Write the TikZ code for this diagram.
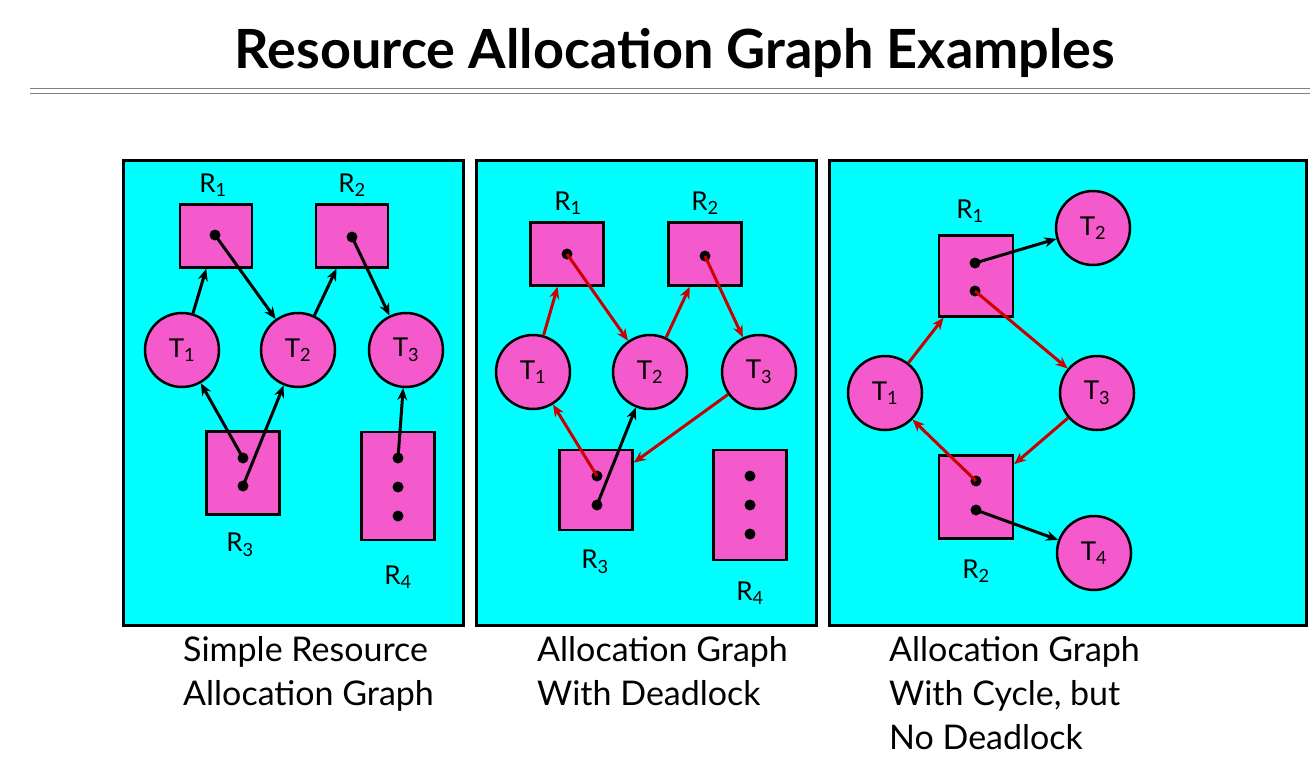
\documentclass[tikz,border=0pt]{standalone}
\usepackage{fontspec}
\setmainfont{Lato}
\usetikzlibrary{arrows.meta}
\definecolor{cy}{RGB}{0,255,255}
\definecolor{pk}{RGB}{245,90,205}
\definecolor{dr}{RGB}{200,0,0}
\begin{document}
\begin{tikzpicture}[x=1pt,y=-1pt,
 panel/.style={draw=black,line width=3,fill=cy,inner sep=0},
 res/.style={draw=black,line width=2.5,fill=pk,rectangle,inner sep=0},
 thr/.style={draw=black,line width=2.5,fill=pk,circle,minimum size=74,inner sep=0,font=\fontsize{26}{28}\selectfont},
 dot/.style={circle,fill=black,minimum size=11,inner sep=0},
 lab/.style={font=\fontsize{26}{28}\selectfont},
 captxt/.style={font=\fontsize{34}{44}\selectfont,align=left,anchor=north west,inner sep=0},
 ba/.style={line width=3,-{Stealth[length=12,width=10]},black},
 ra/.style={line width=3,-{Stealth[length=12,width=10]},dr}]
\useasboundingbox (0,0) rectangle (1314,782);
\node[font=\fontsize{54}{58}\selectfont\bfseries] (title) at (675,53) {Resource Allocation Graph Examples};
\draw[gray,line width=1] (30,88) -- (1310,88);
\draw[gray,line width=1] (30,93) -- (1310,93);
% panels
\draw[panel] (123,160) rectangle (463,625);
\draw[panel] (476,160) rectangle (816,625);
\draw[panel] (829,160) rectangle (1306,625);
% panel 1
\node[res,minimum width=72,minimum height=63] (aR1) at (216,236) {};
\node[res,minimum width=72,minimum height=63] (aR2) at (352,236) {};
\node[res,minimum width=73,minimum height=83] (aR3) at (243,473) {};
\node[res,minimum width=73,minimum height=108] (aR4) at (398,486) {};
\node[dot] (ad1) at (215,235) {};
\node[dot] (ad2) at (352,237) {};
\node[dot] (ad3) at (243,458) {};
\node[dot] (ad4) at (243,486) {};
\node[dot] (ad5) at (398,458) {};
\node[dot] (ad6) at (398,487) {};
\node[dot] (ad7) at (398,516) {};
\node[thr] (aT1) at (182,350) {T\textsubscript{1}};
\node[thr] (aT2) at (298,350) {T\textsubscript{2}};
\node[thr] (aT3) at (406,350) {T\textsubscript{3}};
\node[lab] (alR1) at (213,185) {R\textsubscript{1}};
\node[lab] (alR2) at (352,185) {R\textsubscript{2}};
\node[lab] (alR3) at (240,545) {R\textsubscript{3}};
\node[lab] (alR4) at (398,577) {R\textsubscript{4}};
\draw[ba] (aT1) -- (aR1);
\draw[ba] (ad1.center) -- (aT2);
\draw[ba] (aT2) -- (aR2);
\draw[ba] (ad2.center) -- (aT3);
\draw[ba] (ad3.center) -- (aT1);
\draw[ba] (ad4.center) -- (aT2);
\draw[ba] (ad5.center) -- (aT3);
% panel 2
\node[res,minimum width=73,minimum height=63] (bR1) at (567,254) {};
\node[res,minimum width=73,minimum height=63] (bR2) at (705,254) {};
\node[res,minimum width=73,minimum height=80] (bR3) at (596,490) {};
\node[res,minimum width=73,minimum height=110] (bR4) at (750,505) {};
\node[dot] (bd1) at (567,254) {};
\node[dot] (bd2) at (705,256) {};
\node[dot] (bd3) at (597,476) {};
\node[dot] (bd4) at (597,505) {};
\node[dot] (bd5) at (750,476) {};
\node[dot] (bd6) at (750,505) {};
\node[dot] (bd7) at (750,534) {};
\node[thr] (bT1) at (533,372) {T\textsubscript{1}};
\node[thr] (bT2) at (650,372) {T\textsubscript{2}};
\node[thr] (bT3) at (759,372) {T\textsubscript{3}};
\node[lab] (blR1) at (568,203) {R\textsubscript{1}};
\node[lab] (blR2) at (705,203) {R\textsubscript{2}};
\node[lab] (blR3) at (595,562) {R\textsubscript{3}};
\node[lab] (blR4) at (750,593) {R\textsubscript{4}};
\draw[ra] (bT1) -- (bR1);
\draw[ra] (bd1.center) -- (bT2);
\draw[ra] (bT2) -- (bR2);
\draw[ra] (bd2.center) -- (bT3);
\draw[ra] (bT3) -- (bR3);
\draw[ra] (bd3.center) -- (bT1);
\draw[ba] (bd4.center) -- (bT2);
% panel 3
\node[res,minimum width=74,minimum height=81] (cR1) at (976,276) {};
\node[res,minimum width=74,minimum height=83] (cR2) at (976,497) {};
\node[dot] (cd1) at (975,263) {};
\node[dot] (cd2) at (975,291) {};
\node[dot] (cd3) at (976,481) {};
\node[dot] (cd4) at (976,510) {};
\node[thr] (cT1) at (885,393) {T\textsubscript{1}};
\node[thr] (cT2) at (1093,228) {T\textsubscript{2}};
\node[thr] (cT3) at (1097,393) {T\textsubscript{3}};
\node[thr] (cT4) at (1094,553) {T\textsubscript{4}};
\node[lab] (clR1) at (970,211) {R\textsubscript{1}};
\node[lab] (clR2) at (976,571) {R\textsubscript{2}};
\draw[ba] (cd1.center) -- (cT2);
\draw[ra] (cd2.center) -- (cT3);
\draw[ra] (cT1) -- (cR1);
\draw[ra] (cT3) -- (cR2);
\draw[ra] (cd3.center) -- (cT1);
\draw[ba] (cd4.center) -- (cT4);
% captions
\node[captxt] (cap1) at (183,636) {Simple Resource\\Allocation Graph};
\node[captxt] (cap2) at (537,636) {Allocation Graph\\With Deadlock};
\node[captxt] (cap3) at (889,636) {Allocation Graph\\With Cycle, but\\No Deadlock};
\end{tikzpicture}
\end{document}
